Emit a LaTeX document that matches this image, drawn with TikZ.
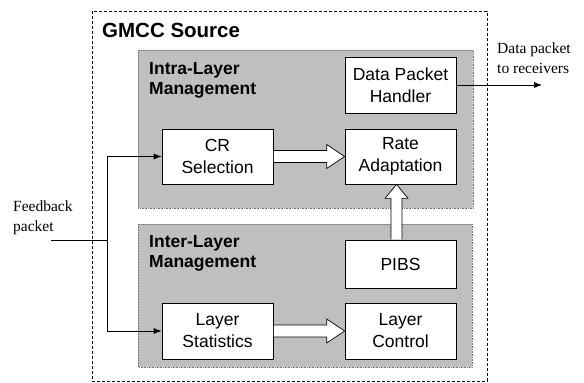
\documentclass[tikz,border=0pt]{standalone}
\usepackage{fontspec}
\setmainfont{Liberation Serif}
\setsansfont{Liberation Sans}
\usetikzlibrary{calc,arrows.meta}
\begin{document}
\begin{tikzpicture}[x=1pt,y=-1pt,
  unit/.style={draw=black, line width=0.7pt, fill=white, minimum width=111pt,
    minimum height=55pt, inner sep=0pt, align=center,
    font=\sffamily\fontsize{17.5}{22}\selectfont},
  panel/.style={draw=black!55, densely dotted, line width=0.6pt, fill=black!25},
  panellabel/.style={anchor=west, inner sep=0pt, align=left,
    font=\sffamily\bfseries\fontsize{17.5}{20}\selectfont},
  note/.style={anchor=west, inner sep=0pt, align=left,
    font=\fontsize{15.5}{20}\selectfont},
  thinarrow/.style={line width=0.7pt, -{Latex[length=8pt,width=6pt]}},
  fat/.style={draw=black, line width=0.7pt, fill=white, line join=miter}
]
\useasboundingbox (0,0) rectangle (584,383);

% source boundary and its title
\draw[dash pattern=on 3pt off 2pt, line width=0.6pt] (92,11) rectangle (487,381);
\node[anchor=west, inner sep=0pt, font=\sffamily\bfseries\fontsize{20.5}{24}\selectfont]
  (title) at (102,30) {GMCC Source};

% management panels
\path[panel] (138,50) rectangle (473,208);
\path[panel] (138,224) rectangle (472,367);
\node[panellabel] (intra) at (149,80) {Intra-Layer\\Management};
\node[panellabel] (inter) at (149,253) {Inter-Layer\\Management};

% functional units
\node[unit, minimum height=56pt] (dph) at (400.5,85) {Data Packet\\Handler};
\node[unit] (cr) at (217.5,156.5) {CR\\Selection};
\node[unit] (rate) at (400.5,156.5) {Rate\\Adaptation};
\node[unit, minimum height=48pt] (pibs) at (400.5,264) {PIBS};
\node[unit, minimum height=56pt] (stats) at (217.5,331) {Layer\\Statistics};
\node[unit, minimum height=56pt] (ctrl) at (400.5,331) {Layer\\Control};

% wide hollow arrows between units
\path[fat] ($(cr.east)+(0.4,-6)$) -- ($(rate.west)+(-18,-6)$) -- ($(rate.west)+(-18,-12)$)
  -- (rate.west) -- ($(rate.west)+(-18,12)$) -- ($(rate.west)+(-18,6)$) -- ($(cr.east)+(0.4,6)$);
\path[fat] ($(stats.east)+(0.4,-6)$) -- ($(ctrl.west)+(-18,-6)$) -- ($(ctrl.west)+(-18,-12)$)
  -- (ctrl.west) -- ($(ctrl.west)+(-18,12)$) -- ($(ctrl.west)+(-18,6)$) -- ($(stats.east)+(0.4,6)$);
\path[fat] ($(pibs.north)+(-9.5,-0.4)$) -- ($(rate.south)+(-9.5,14)$) -- ($(rate.south)+(-15.5,14)$)
  -- ($(rate.south)+(-4,0)$) -- ($(rate.south)+(7.5,14)$) -- ($(rate.south)+(1.5,14)$)
  -- ($(pibs.north)+(1.5,-0.4)$);

% feedback input
\coordinate (fb) at (51,240);
\coordinate (split) at (107,240);
\draw[line width=0.7pt] (fb) -- (split);
\draw[thinarrow] (split) |- (cr.west);
\draw[thinarrow] (split) |- (stats.west);
\node[note] (fblabel) at (13,218) {Feedback\\packet};

% data output
\coordinate (out) at (542,85);
\draw[thinarrow] (dph.east) -- (out);
\node[note] (outlabel) at (497,58) {Data packet\\to receivers};
\end{tikzpicture}
\end{document}
